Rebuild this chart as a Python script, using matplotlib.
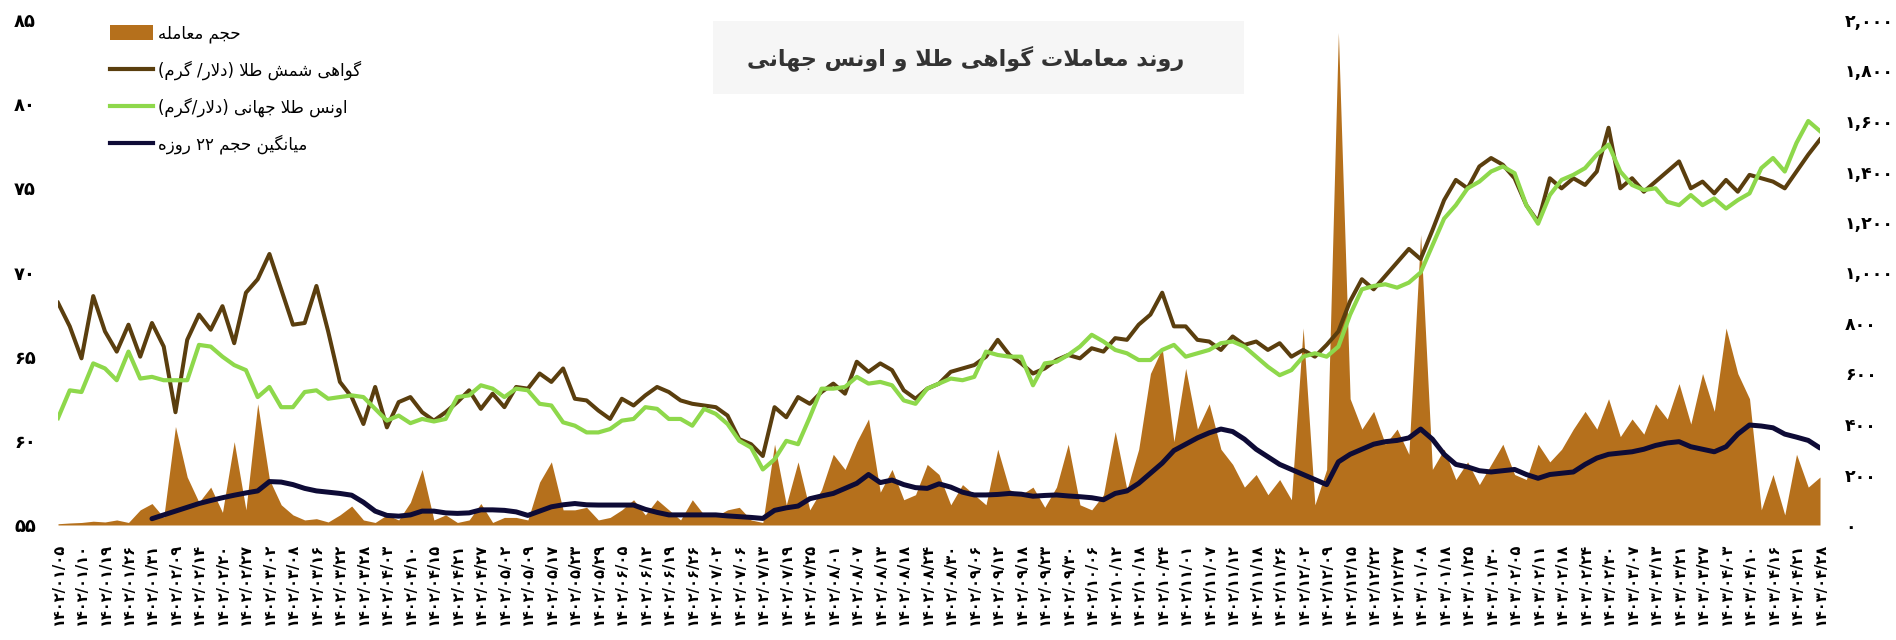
"""Gold certificate vs. world ounce trading chart (Persian labels)."""
import re

import numpy as np
import matplotlib
matplotlib.use("Agg")
import matplotlib.pyplot as plt
from matplotlib.patches import Patch, Rectangle
from matplotlib.lines import Line2D

# ---------------------------------------------------------------------------
# Data (two points per date label)
# ---------------------------------------------------------------------------

DATE_LABELS = [
    "1402/01/05", "1402/01/10", "1402/01/19", "1402/01/26", "1402/01/31",
    "1402/02/09", "1402/02/14", "1402/02/20", "1402/02/27", "1402/03/02",
    "1402/03/08", "1402/03/16", "1402/03/22", "1402/03/28", "1402/04/03",
    "1402/04/10", "1402/04/15", "1402/04/21", "1402/04/27", "1402/05/02",
    "1402/05/09", "1402/05/17", "1402/05/23", "1402/05/29", "1402/06/05",
    "1402/06/12", "1402/06/19", "1402/06/26", "1402/07/02", "1402/07/06",
    "1402/07/13", "1402/07/19", "1402/07/25", "1402/08/01", "1402/08/07",
    "1402/08/13", "1402/08/18", "1402/08/24", "1402/08/30", "1402/09/06",
    "1402/09/12", "1402/09/18", "1402/09/23", "1402/09/30", "1402/10/06",
    "1402/10/12", "1402/10/18", "1402/10/24", "1402/11/01", "1402/11/07",
    "1402/11/12", "1402/11/18", "1402/11/26", "1402/12/02", "1402/12/09",
    "1402/12/15", "1402/12/22", "1402/12/27", "1403/01/08", "1403/01/18",
    "1403/01/25", "1403/01/30", "1403/02/05", "1403/02/11", "1403/02/18",
    "1403/02/24", "1403/02/30", "1403/03/07", "1403/03/13", "1403/03/21",
    "1403/03/27", "1403/04/03", "1403/04/10", "1403/04/16", "1403/04/21",
    "1403/04/28",
]

# gold certificate price (USD / gram), left axis
gold_cert = [
    68.2, 66.8, 64.9, 68.6, 66.5, 65.3, 66.9, 65.0, 67.0, 65.6,
    61.7, 66.0, 67.5, 66.6, 68.0, 65.8, 68.8, 69.6, 71.1, 69.0,
    66.9, 67.0, 69.2, 66.5, 63.5, 62.6, 61.0, 63.2, 60.8, 62.3,
    62.6, 61.7, 61.2, 61.7, 62.3, 63.0,
    61.9, 62.8, 62.0, 63.2, 63.1, 64.0, 63.5, 64.3, 62.5, 62.4,
    61.8, 61.3, 62.5, 62.1, 62.7, 63.2, 62.9, 62.4, 62.2, 62.1,
    62.0, 61.5, 60.1, 59.8, 59.1, 62.0, 61.4, 62.6, 62.2, 62.9,
    63.4, 62.8, 64.7, 64.1, 64.6, 64.2, 63.0, 62.5, 63.1, 63.4,
    64.1, 64.3, 64.5, 65.0, 66.0, 65.1, 64.6, 64.0, 64.3, 64.8,
    65.1, 64.9, 65.5, 65.3, 66.1, 66.0, 66.9, 67.5, 68.8, 66.8,
    66.8, 66.0, 65.9, 65.4, 66.2, 65.7, 65.9, 65.4, 65.8, 65.0,
    65.4, 65.0, 65.7, 66.5, 68.3, 69.6, 69.0, 69.8, 70.6, 71.4,
    70.8, 72.5, 74.3, 75.5, 75.0, 76.3, 76.8, 76.4, 75.6, 74.0,
    73.0, 75.6, 75.0, 75.6, 75.2, 76.0, 78.6, 75.0, 75.6, 74.8,
    75.4, 76.0, 76.6, 75.0, 75.4, 74.7, 75.5, 74.8, 75.8, 75.6,
    75.4, 75.0, 76.0, 77.0, 77.9,
]

# world gold ounce converted to USD / gram, left axis
ounce = [
    61.35, 63.0, 62.9, 64.6, 64.3, 63.6, 65.3, 63.7, 63.8, 63.6,
    63.6, 63.6, 65.7, 65.6, 65.0, 64.5, 64.2, 62.6, 63.2, 62.0,
    62.0, 62.9, 63.0, 62.5, 62.6, 62.7, 62.6, 61.9, 61.2, 61.5,
    61.05, 61.3, 61.15, 61.3, 62.6, 62.7,
    63.3, 63.1, 62.6, 63.1, 63.0, 62.2, 62.1, 61.1, 60.9, 60.5,
    60.5, 60.7, 61.2, 61.3, 62.0, 61.9, 61.3, 61.3, 60.9, 61.9,
    61.6, 61.0, 60.0, 59.6, 58.3, 58.9, 60.0, 59.8, 61.4, 63.1,
    63.1, 63.2, 63.8, 63.4, 63.5, 63.3, 62.4, 62.2, 63.1, 63.4,
    63.7, 63.6, 63.8, 65.3, 65.1, 65.0, 65.0, 63.3, 64.6, 64.7,
    65.1, 65.6, 66.3, 65.9, 65.4, 65.2, 64.8, 64.8, 65.4, 65.7,
    65.0, 65.2, 65.4, 65.8, 65.9, 65.6, 65.0, 64.4, 63.9, 64.2,
    65.0, 65.2, 65.0, 65.6, 67.5, 69.0, 69.2, 69.3, 69.1, 69.4,
    70.0, 71.6, 73.2, 74.0, 75.0, 75.4, 76.0, 76.3, 75.9, 74.0,
    72.9, 74.6, 75.5, 75.8, 76.2, 77.0, 77.6, 76.0, 75.2, 74.9,
    75.0, 74.2, 74.0, 74.6, 74.0, 74.4, 73.8, 74.3, 74.7, 76.2,
    76.8, 76.0, 77.7, 79.0, 78.4,
]

# traded volume, right axis
volume = [
    5, 8, 10, 15, 12, 20, 10, 60, 85, 30,
    390, 190, 90, 150, 50, 330, 60, 480, 180, 80,
    40, 20, 25, 12, 40, 75, 20, 10, 40, 20,
    90, 220, 20, 40, 10, 20,
    85, 10, 30, 30, 20, 170, 250, 60, 60, 70,
    20, 30, 60, 100, 40, 100, 60, 20, 100, 40,
    35, 60, 70, 20, 10, 320, 80, 250, 60, 140,
    280, 220, 330, 420, 130, 220, 100, 120, 240, 200,
    80, 160, 120, 80, 300, 140, 120, 150, 70, 150,
    320, 80, 60, 120, 370, 140, 300, 600, 700, 330,
    620, 380, 480, 300, 240, 150, 200, 120, 180, 100,
    780, 80, 220, 1950, 500, 380, 450, 320, 380, 280,
    1150, 220, 300, 180, 250, 160, 240, 320, 200, 180,
    320, 250, 300, 380, 450, 380, 500, 350, 420, 360,
    480, 420, 560, 400, 600, 450, 780, 600, 500, 60,
    200, 40, 280, 150, 190,
]

# 22-day moving average of volume, right axis
vol_avg = [
    np.nan, np.nan, np.nan, np.nan, np.nan, np.nan, np.nan, np.nan, 25, 40,
    55, 70, 85, 97, 108, 118, 127, 135, 172, 170,
    160, 145, 135, 130, 125, 118, 90, 55, 38, 35,
    40, 55, 55, 48, 46, 48,
    60, 60, 58, 52, 38, 55, 72, 80, 85, 80,
    79, 79, 79, 79, 62, 50, 40, 40, 40, 40,
    40, 36, 33, 30, 26, 58, 68, 75, 104, 115,
    125, 145, 165, 200, 168, 178, 160, 148, 145, 163,
    150, 130, 119, 119, 121, 125, 122, 114, 117, 119,
    115, 112, 108, 100, 125, 135, 165, 205, 245, 295,
    320, 345, 365, 380, 370, 340, 300, 270, 240, 220,
    200, 180, 160, 250, 280, 300, 320, 330, 335, 345,
    380, 340, 280, 240, 230, 215, 210, 215, 220, 200,
    185, 200, 205, 210, 240, 265, 280, 285, 290, 300,
    315, 325, 330, 310, 300, 290, 310, 360, 396, 392,
    385, 360, 348, 335, 305,
]

TITLE = "روند معاملات گواهی طلا و اونس جهانی"
LEGEND_LABELS = [
    "حجم معامله",
    "گواهی شمش طلا (دلار/ گرم)",
    "اونس طلا جهانی (دلار/گرم)",
    "میانگین حجم ۲۲ روزه",
]

VOL_COLOR = "#B5701C"
CERT_COLOR = "#5A3E0E"
OUNCE_COLOR = "#8ED84B"
AVG_COLOR = "#0E0B36"

# ---------------------------------------------------------------------------
# Minimal Persian shaping (matplotlib has no complex text layout)
# ---------------------------------------------------------------------------

FA_DIGITS = str.maketrans("0123456789", "۰۱۲۳۴۵۶۷۸۹")

# isolated, final, initial, medial  (None -> right-joining only)
FORMS = {
    "ا": ("\uFE8D", "\uFE8E", None, None),
    "ت": ("\uFE95", "\uFE96", "\uFE97", "\uFE98"),
    "ج": ("\uFE9D", "\uFE9E", "\uFE9F", "\uFEA0"),
    "ح": ("\uFEA1", "\uFEA2", "\uFEA3", "\uFEA4"),
    "د": ("\uFEA9", "\uFEAA", None, None),
    "ر": ("\uFEAD", "\uFEAE", None, None),
    "ز": ("\uFEAF", "\uFEB0", None, None),
    "س": ("\uFEB1", "\uFEB2", "\uFEB3", "\uFEB4"),
    "ش": ("\uFEB5", "\uFEB6", "\uFEB7", "\uFEB8"),
    "ط": ("\uFEC1", "\uFEC2", "\uFEC3", "\uFEC4"),
    "ع": ("\uFEC9", "\uFECA", "\uFECB", "\uFECC"),
    "ل": ("\uFEDD", "\uFEDE", "\uFEDF", "\uFEE0"),
    "م": ("\uFEE1", "\uFEE2", "\uFEE3", "\uFEE4"),
    "ن": ("\uFEE5", "\uFEE6", "\uFEE7", "\uFEE8"),
    "ه": ("\uFEE9", "\uFEEA", "\uFEEB", "\uFEEC"),
    "و": ("\uFEED", "\uFEEE", None, None),
    "ی": ("\uFBFC", "\uFBFD", "\uFBFE", "\uFBFF"),
    "گ": ("\uFB92", "\uFB93", "\uFB94", "\uFB95"),
}


def _shape(text: str) -> str:
    out = []
    i = 0
    while i < len(text):
        c = text[i]
        if c not in FORMS:
            out.append(c)
            i += 1
            continue
        prev = text[i - 1] if i > 0 else None
        joins_prev = prev in FORMS and FORMS[prev][2] is not None
        if c == "ل" and i + 1 < len(text) and text[i + 1] == "ا":
            out.append("\uFEFC" if joins_prev else "\uFEFB")
            i += 2
            continue
        nxt = text[i + 1] if i + 1 < len(text) else None
        joins_next = FORMS[c][2] is not None and nxt in FORMS
        iso, fin, ini, med = FORMS[c]
        if joins_prev and joins_next:
            out.append(med)
        elif joins_prev:
            out.append(fin)
        elif joins_next:
            out.append(ini)
        else:
            out.append(iso)
        i += 1
    return "".join(out)


def fa(text: str) -> str:
    """Shape Persian text and put it in visual (left-to-right) order."""
    tokens = re.findall(r"[0-9۰-۹]+|[^0-9۰-۹]", _shape(text))
    mirror = {"(": ")", ")": "("}
    return "".join(mirror.get(t, t) for t in reversed(tokens))


# ---------------------------------------------------------------------------
# Plot
# ---------------------------------------------------------------------------

plt.rcParams["font.family"] = ["DejaVu Sans"]

fig = plt.figure(figsize=(18.96, 6.4), dpi=100)
ax = fig.add_axes([58 / 1896, 1 - 525 / 640, 1762 / 1896, 505 / 640])
ax2 = ax.twinx()  # prices drawn on top of the volume area

x = np.arange(len(volume))

# volume (right axis)
ax.fill_between(x, volume, color=VOL_COLOR, lw=0)
ax.plot(x, vol_avg, color=AVG_COLOR, lw=3.6, solid_capstyle="round")
ax.set_xlim(0, len(volume) - 1)
ax.set_ylim(0, 2000)
vol_ticks = np.arange(0, 2001, 200)
ax.set_yticks(vol_ticks)
ax.set_yticklabels([f"{v:,}".translate(FA_DIGITS) for v in vol_ticks],
                   fontsize=12.5, fontweight="bold")
ax.set_xticks(x[::2])
ax.set_xticklabels([d.translate(FA_DIGITS) for d in DATE_LABELS],
                   rotation=90, fontsize=10.5, fontweight="bold")
ax.yaxis.tick_right()
ax.tick_params(axis="y", length=0, pad=18)
ax.tick_params(axis="x", length=0, pad=13)

# prices (left axis)
ax2.plot(x, gold_cert, color=CERT_COLOR, lw=2.9, solid_joinstyle="round")
ax2.plot(x, ounce, color=OUNCE_COLOR, lw=3.0, solid_joinstyle="round")
ax2.set_ylim(55, 85)
price_ticks = np.arange(55, 86, 5)
ax2.set_yticks(price_ticks)
ax2.set_yticklabels([str(v).translate(FA_DIGITS) for v in price_ticks],
                    fontsize=13, fontweight="bold")
ax2.yaxis.tick_left()
ax2.tick_params(axis="y", length=0, pad=16)

for a in (ax, ax2):
    for s in a.spines.values():
        s.set_visible(False)

handles = [
    Patch(facecolor=VOL_COLOR, edgecolor="none"),
    Line2D([], [], color=CERT_COLOR, lw=3),
    Line2D([], [], color=OUNCE_COLOR, lw=3),
    Line2D([], [], color=AVG_COLOR, lw=3),
]
ax2.legend(handles, [fa(t) for t in LEGEND_LABELS], loc="upper left",
           bbox_to_anchor=(110 / 1896, 1 - 24 / 640),
           bbox_transform=fig.transFigure, frameon=False, fontsize=12,
           handlelength=2.6, handleheight=1.0, handletextpad=0.3,
           labelspacing=1.05, borderpad=0, borderaxespad=0)

fig.add_artist(Rectangle((713 / 1896, 1 - 94 / 640), 531 / 1896, 73 / 640,
                         transform=fig.transFigure, facecolor="#F6F6F6",
                         edgecolor="none"))
fig.text(966 / 1896, 1 - 58 / 640, fa(TITLE), ha="center", va="center",
         fontsize=16, fontweight="bold", color="#333333")

fig.savefig("out.png", dpi=100)
